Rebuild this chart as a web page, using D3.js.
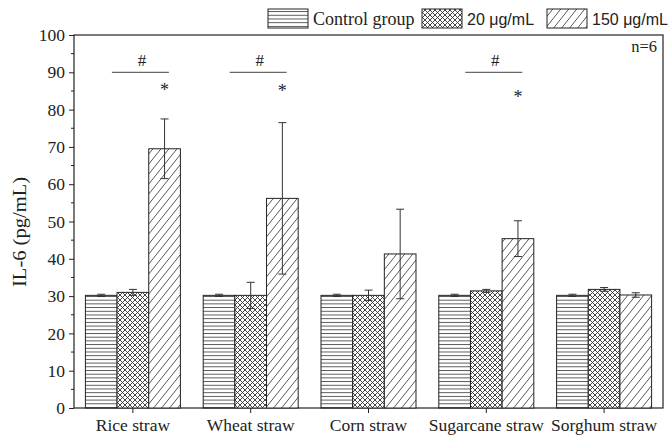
<!DOCTYPE html>
<html>
<head>
<meta charset="utf-8">
<script src="https://cdn.jsdelivr.net/npm/d3@7"></script>
<style>
  body { margin: 0; background: #fff; }
  text { fill: #222; }
</style>
</head>
<body>
<svg id="chart" width="672" height="437"></svg>
<script>
const categories = ["Rice straw", "Wheat straw", "Corn straw", "Sugarcane straw", "Sorghum straw"];
const groups = ["Control group", "20 μg/mL", "150 μg/mL"];
const controlVals = [30.2, 30.2, 30.2, 30.2, 30.2];
const controlErr = [0.3, 0.3, 0.3, 0.3, 0.3];
const low20Vals = [31.0, 30.2, 30.2, 31.4, 31.8];
const low20Err = [0.8, 3.5, 1.4, 0.4, 0.5];
const high150Vals = [69.5, 56.2, 41.3, 45.4, 30.3];
const high150Err = [8.0, 20.3, 12.0, 4.8, 0.6];
const yTicks = [0, 10, 20, 30, 40, 50, 60, 70, 80, 90, 100];
// significance marks
const sigCats = ["Rice straw", "Wheat straw", "Sugarcane straw"];
const starVals = [86.0, 85.8, 84.2];
const hashLineVal = 90;

const svg = d3.select("#chart");
const margin = {left: 74, right: 9, top: 35, bottom: 29};
const W = 672, H = 437;

const x0 = d3.scaleBand().domain(categories).range([margin.left, W - margin.right]).padding(0);
const x1 = d3.scaleBand().domain(groups).range([0, x0.bandwidth()]).paddingInner(0).paddingOuter(0.36);
const y = d3.scaleLinear().domain([0, 100]).range([H - margin.bottom, margin.top]);

// patterns
const defs = svg.append("defs");
const pH = defs.append("pattern").attr("id", "p0").attr("patternUnits", "userSpaceOnUse")
  .attr("width", 8).attr("height", 3.7);
pH.append("rect").attr("width", 8).attr("height", 3.7).attr("fill", "#fff");
pH.append("line").attr("x1", 0).attr("x2", 8).attr("y1", 0.5).attr("y2", 0.5)
  .attr("stroke", "#444").attr("stroke-width", 0.9);

const pX = defs.append("pattern").attr("id", "p1").attr("patternUnits", "userSpaceOnUse")
  .attr("width", 5).attr("height", 5);
pX.append("rect").attr("width", 5).attr("height", 5).attr("fill", "#fff");
pX.append("path").attr("d", "M0,0L5,5M5,0L0,5M-1,4L1,6M4,-1L6,1M-1,1L1,-1M4,6L6,4")
  .attr("stroke", "#333").attr("stroke-width", 0.9);

const pD = defs.append("pattern").attr("id", "p2").attr("patternUnits", "userSpaceOnUse")
  .attr("width", 8).attr("height", 10);
pD.append("rect").attr("width", 8).attr("height", 10).attr("fill", "#fff");
pD.append("path").attr("d", "M0,10L8,0M-2,2.5L2,-2.5M6,12.5L10,7.5")
  .attr("stroke", "#444").attr("stroke-width", 0.9);

const fills = ["url(#p0)", "url(#p1)", "url(#p2)"];
const vals = [controlVals, low20Vals, high150Vals];
const errs = [controlErr, low20Err, high150Err];

const rows = [];
categories.forEach((c, i) => {
  groups.forEach((g, j) => {
    rows.push({cat: c, grp: g, j: j, v: vals[j][i], e: errs[j][i]});
  });
});

// frame
svg.append("rect")
  .attr("x", margin.left).attr("y", margin.top)
  .attr("width", W - margin.right - margin.left)
  .attr("height", y(0) - margin.top)
  .attr("fill", "none").attr("stroke", "#222").attr("stroke-width", 1.2);

// bars
svg.append("g").selectAll("rect")
  .data(rows).join("rect")
  .attr("x", d => x0(d.cat) + x1(d.grp))
  .attr("y", d => y(d.v))
  .attr("width", x1.bandwidth())
  .attr("height", d => y(0) - y(d.v))
  .attr("fill", d => fills[d.j])
  .attr("stroke", "#222").attr("stroke-width", 1);

// error bars
const eb = svg.append("g").attr("stroke", "#333").attr("stroke-width", 1);
rows.forEach(d => {
  const cx = x0(d.cat) + x1(d.grp) + x1.bandwidth() / 2;
  eb.append("line").attr("x1", cx).attr("x2", cx).attr("y1", y(d.v + d.e)).attr("y2", y(d.v - d.e));
  eb.append("line").attr("x1", cx - 4).attr("x2", cx + 4).attr("y1", y(d.v + d.e)).attr("y2", y(d.v + d.e));
  eb.append("line").attr("x1", cx - 4).attr("x2", cx + 4).attr("y1", y(d.v - d.e)).attr("y2", y(d.v - d.e));
});

// axes
const yAxis = svg.append("g").attr("transform", `translate(${margin.left},0)`)
  .call(d3.axisLeft(y).tickValues(yTicks).tickSize(5).tickPadding(4));
yAxis.select(".domain").remove();
yAxis.selectAll("text").attr("font-family", "Liberation Serif").attr("font-size", 17.5).style("fill", "#222");
yAxis.selectAll("line").attr("stroke", "#222");
svg.append("g").attr("transform", `translate(${margin.left},0)`)
  .selectAll("line").data(d3.range(5, 100, 10)).join("line")
  .attr("x1", -3).attr("x2", 0).attr("y1", d => y(d)).attr("y2", d => y(d))
  .attr("stroke", "#222");

const xAxis = svg.append("g").attr("transform", `translate(0,${y(0)})`)
  .call(d3.axisBottom(x0).tickSize(5).tickPadding(6));
xAxis.select(".domain").remove();
xAxis.selectAll("text").attr("font-family", "Liberation Serif").attr("font-size", 17.5).style("fill", "#222");
xAxis.selectAll("line").attr("stroke", "#222");

svg.append("text")
  .attr("transform", "translate(20,232) rotate(-90)")
  .attr("text-anchor", "middle").attr("dy", "0.35em")
  .attr("font-family", "Liberation Serif").attr("font-size", 18)
  .attr("textLength", 110).attr("lengthAdjust", "spacingAndGlyphs")
  .text("IL-6 (pg/mL)");

// significance
const hatchX = c => x0(c) + x1(groups[2]) + x1.bandwidth() / 2;
sigCats.forEach((c, i) => {
  const cc = x0(c) + x0.bandwidth() / 2;
  svg.append("line").attr("x1", cc - 21).attr("x2", cc + 36)
    .attr("y1", y(hashLineVal)).attr("y2", y(hashLineVal))
    .attr("stroke", "#444").attr("stroke-width", 1);
  svg.append("text").attr("x", cc + 9).attr("y", y(hashLineVal) - 6)
    .attr("text-anchor", "middle").attr("font-family", "Liberation Serif").attr("font-size", 17)
    .text("#");
  svg.append("text").attr("x", hatchX(c)).attr("y", y(starVals[i]) + 9)
    .attr("text-anchor", "middle").attr("font-family", "Liberation Serif").attr("font-size", 18)
    .text("*");
});

svg.append("text").attr("x", 657).attr("y", 52)
  .attr("text-anchor", "end").attr("font-family", "Liberation Serif").attr("font-size", 16.5)
  .text("n=6");

// legend
const legX = [268, 422, 547];
const leg = svg.append("g");
groups.forEach((g, j) => {
  leg.append("rect").attr("x", legX[j]).attr("y", 9).attr("width", 40).attr("height", 19)
    .attr("fill", fills[j]).attr("stroke", "#222");
  leg.append("text").attr("x", legX[j] + 45).attr("y", 25)
    .attr("font-family", j === 0 ? "Liberation Serif" : "Liberation Sans")
    .attr("font-size", j === 0 ? 18 : 16)
    .text(g);
});
</script>
</body>
</html>
